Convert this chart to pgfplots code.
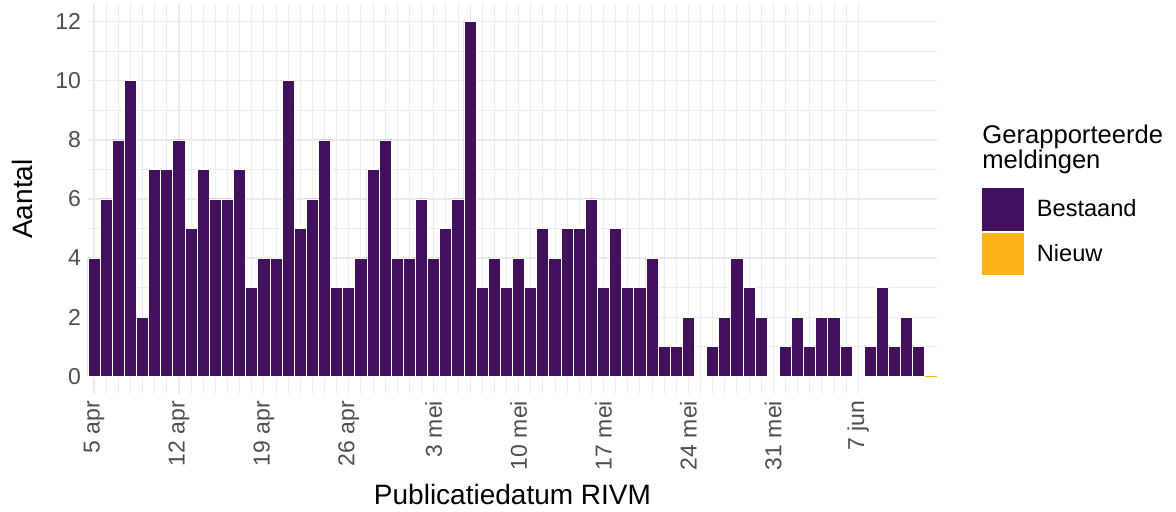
\documentclass[border=0pt]{standalone}
\usepackage{pgfplots}
\pgfplotsset{compat=1.18}
\usepackage{fontspec}
\setmainfont{Liberation Sans}

\definecolor{bestaand}{RGB}{66,17,94}
\definecolor{nieuw}{RGB}{252,180,24}
\definecolor{gridc}{RGB}{235,235,235}
\definecolor{ticktxt}{RGB}{77,77,77}

\begin{document}
\begin{tikzpicture}
\useasboundingbox (-44pt,-59pt) rectangle (544pt,197pt);
\begin{axis}[
  scale only axis,
  width=424.5pt, height=195pt,
  at={(0,0)}, anchor=south west,
  clip mode=individual,
  xmin=-0.5, xmax=69.5,
  ymin=-0.6, ymax=12.6,
  axis line style={draw=none},
  major tick length=0pt, minor tick length=0pt,
  xtick={0,7,14,21,28,35,42,49,56,63},
  xticklabels={5 apr,12 apr,19 apr,26 apr,3 mei,10 mei,17 mei,24 mei,31 mei,7 jun},
  minor x tick num=6,
  ytick={0,2,4,6,8,10,12},
  minor y tick num=1,
  grid=both,
  major grid style={draw=gridc, line width=0.6pt},
  minor grid style={draw=gridc, line width=0.4pt},
  /pgf/number format/assume math mode=true,
  tick label style={font=\fontsize{11.5}{13}\selectfont, text=ticktxt},
  xticklabel style={rotate=90, anchor=east},
  label style={font=\fontsize{14}{16}\selectfont},
  xlabel={Publicatiedatum RIVM},
  ylabel={Aantal},
  ylabel style={at={(axis description cs:-0.057,0.5)}},
  xlabel style={at={(axis description cs:0.5,-0.213)}},
  ybar, bar width=1, bar shift=0pt,
  legend style={at={(axis description cs:1.053,0.528)}, anchor=north west,
    draw=none, fill=none, font=\fontsize{11.8}{14}\selectfont,
    row sep=1pt, inner sep=0pt},
  legend cell align=left,
  legend image code/.code={\fill[#1,draw=none] (0pt,-10.6pt) rectangle (21pt,10.6pt);
    \path (25pt,0pt);},
]
\addplot[fill=bestaand, draw=white, line width=0.4pt] coordinates {
(0,4) (1,6) (2,8) (3,10) (4,2) (5,7) (6,7) (7,8) (8,5) (9,7)
(10,6) (11,6) (12,7) (13,3) (14,4) (15,4) (16,10) (17,5) (18,6) (19,8)
(20,3) (21,3) (22,4) (23,7) (24,8) (25,4) (26,4) (27,6) (28,4) (29,5)
(30,6) (31,12) (32,3) (33,4) (34,3) (35,4) (36,3) (37,5) (38,4) (39,5)
(40,5) (41,6) (42,3) (43,5) (44,3) (45,3) (46,4) (47,1) (48,1) (49,2)
(50,0) (51,1) (52,2) (53,4) (54,3) (55,2) (56,0) (57,1) (58,2) (59,1)
(60,2) (61,2) (62,1) (63,0) (64,1) (65,3) (66,1) (67,2) (68,1)
};
\addlegendentry{Bestaand}
\addplot[fill=nieuw, draw=nieuw, line width=0.5pt] coordinates {(69,0)};
\addlegendentry{Nieuw}
\node[anchor=north west, align=left, font=\fontsize{12.8}{12.5}\selectfont, inner sep=0pt]
  at (axis description cs:1.053,0.69) {Gerapporteerde\\meldingen};
\end{axis}
\end{tikzpicture}
\end{document}
